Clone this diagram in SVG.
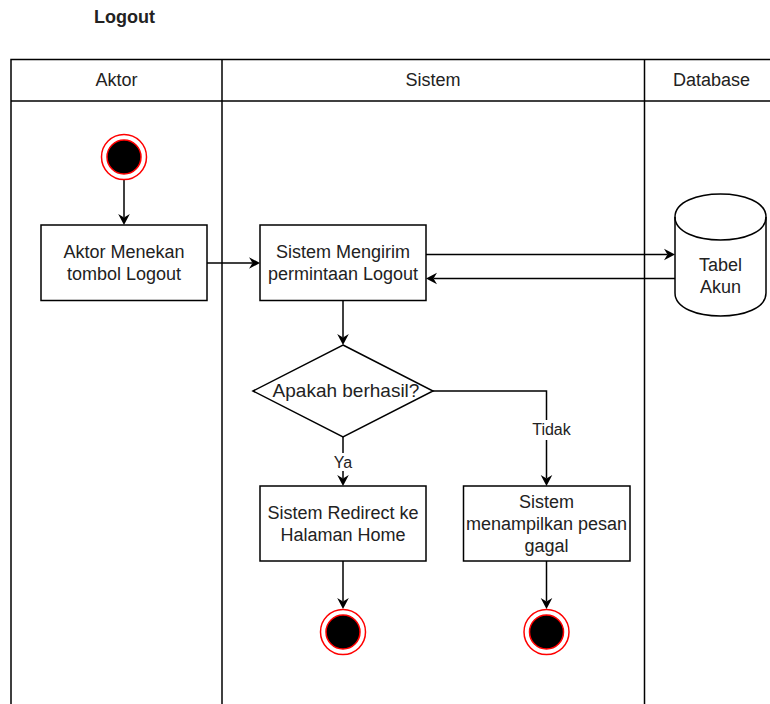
<svg xmlns="http://www.w3.org/2000/svg" width="770" height="704" viewBox="0 0 770 704">
  <style>
    text { font-family: "Liberation Sans", Arial, Helvetica, sans-serif; fill: #222222; text-anchor: middle; }
    .title { font-size: 18px; font-weight: bold; }
    .lbl { font-size: 18px; }
    .q { font-size: 19px; }
    .edge-lbl { font-size: 16px; }
    .shape { fill: #ffffff; stroke: #000000; stroke-width: 1.5; }
    .lane { fill: none; stroke: #000000; stroke-width: 1.5; }
    .conn { fill: none; stroke: #000000; stroke-width: 1.5; marker-end: url(#arrow); }
    .ring { fill: #ffffff; stroke: #ff0000; stroke-width: 1.5; }
    .dot { fill: #000000; stroke: #ff0000; stroke-width: 1.5; }
  </style>
  <defs>
    <marker id="arrow" viewBox="-12 -7 14 14" markerWidth="14" markerHeight="14" refX="-7.5" refY="0" orient="auto" markerUnits="userSpaceOnUse">
      <path d="M0,0 L-11,-5.8 L-7.5,0 L-11,5.8 Z" fill="#000000"/>
    </marker>
  </defs>

  <rect width="770" height="704" fill="#ffffff"/>

  <text class="title" x="124.5" y="23">Logout</text>

  <!-- swimlane pool -->
  <g id="pool">
    <rect class="lane" x="11" y="59.5" width="800" height="700"/>
    <line class="lane" x1="11" y1="101" x2="811" y2="101"/>
    <line class="lane" x1="222" y1="59.5" x2="222" y2="760"/>
    <line class="lane" x1="644.5" y1="59.5" x2="644.5" y2="760"/>
    <text class="lbl" x="116.5" y="86">Aktor</text>
    <text class="lbl" x="433" y="86">Sistem</text>
    <text class="lbl" x="711.5" y="86">Database</text>
  </g>

  <!-- connectors -->
  <g id="connectors">
    <line class="conn" x1="124" y1="180" x2="124" y2="217.5"/>
    <line class="conn" x1="207" y1="263" x2="252.5" y2="263"/>
    <line class="conn" x1="426" y1="254.5" x2="667.5" y2="254.5"/>
    <line class="conn" x1="675" y1="278.5" x2="433.5" y2="278.5"/>
    <line class="conn" x1="343" y1="300.5" x2="343" y2="337.5"/>
    <line class="conn" x1="343" y1="437" x2="343" y2="478.5"/>
    <polyline class="conn" points="433,391 546.5,391 546.5,478.5"/>
    <line class="conn" x1="343" y1="561" x2="343" y2="601.5"/>
    <line class="conn" x1="546.5" y1="561" x2="546.5" y2="601.5"/>
    <rect x="334" y="453" width="18" height="18" fill="#ffffff"/>
    <text class="edge-lbl" x="343" y="467.5">Ya</text>
    <rect x="531" y="420" width="41" height="20" fill="#ffffff"/>
    <text class="edge-lbl" x="551.5" y="435">Tidak</text>
  </g>

  <g id="start">
    <circle class="ring" cx="124" cy="157" r="22.5"/>
    <circle class="dot" cx="124" cy="157" r="17"/>
  </g>

  <g id="aktor-menekan">
    <rect class="shape" x="41" y="225" width="166" height="75.5"/>
    <text class="lbl" x="124" y="258">Aktor Menekan</text>
    <text class="lbl" x="124" y="280">tombol Logout</text>
  </g>

  <g id="sistem-mengirim">
    <rect class="shape" x="260" y="225" width="166" height="75.5"/>
    <text class="lbl" x="343" y="258">Sistem Mengirim</text>
    <text class="lbl" x="343" y="280">permintaan Logout</text>
  </g>

  <g id="tabel-akun">
    <path class="shape" d="M675,217 C675,186.3 766,186.3 766,217 L766,293 C766,323.7 675,323.7 675,293 Z"/>
    <path class="shape" d="M675,217 C675,247.7 766,247.7 766,217" style="fill:none"/>
    <text class="lbl" x="720.5" y="271">Tabel</text>
    <text class="lbl" x="720.5" y="293">Akun</text>
  </g>

  <g id="apakah-berhasil">
    <polygon class="shape" points="343,345 433,391 343,437 253,391"/>
    <text class="q" x="346" y="397">Apakah berhasil?</text>
  </g>

  <g id="redirect-home">
    <rect class="shape" x="260" y="486" width="166" height="75"/>
    <text class="lbl" x="343" y="519">Sistem Redirect ke</text>
    <text class="lbl" x="343" y="541">Halaman Home</text>
  </g>

  <g id="pesan-gagal">
    <rect class="shape" x="463.5" y="486" width="166.5" height="75"/>
    <text class="lbl" x="546.5" y="508">Sistem</text>
    <text class="lbl" x="546.5" y="530">menampilkan pesan</text>
    <text class="lbl" x="546.5" y="552">gagal</text>
  </g>

  <g id="end-home">
    <circle class="ring" cx="343" cy="632" r="22.5"/>
    <circle class="dot" cx="343" cy="632" r="17"/>
  </g>

  <g id="end-gagal">
    <circle class="ring" cx="546.5" cy="632" r="22.5"/>
    <circle class="dot" cx="546.5" cy="632" r="17"/>
  </g>
</svg>
